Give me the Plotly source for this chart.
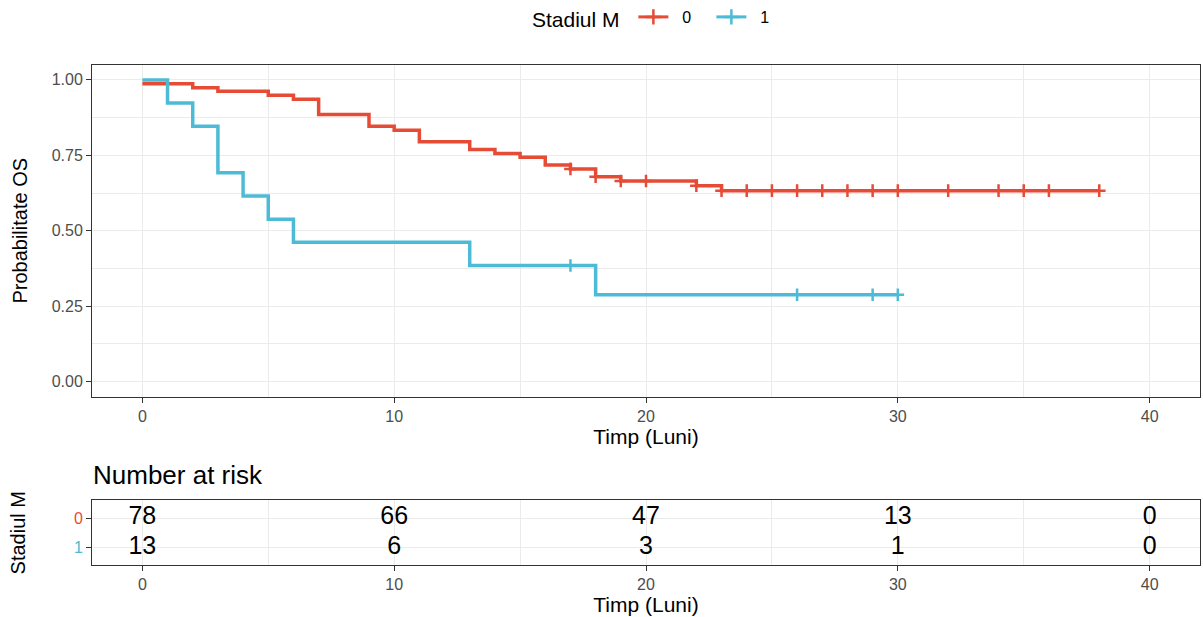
import plotly.graph_objects as go

# Kaplan-Meier step estimates per M stage (time in months, survival probability)
m0_time = [0, 2, 3, 5, 6, 7, 9, 10, 11, 13, 14, 15, 16, 17, 18, 19, 22, 23, 38]
m0_surv = [0.987, 0.974, 0.962, 0.949, 0.936, 0.885, 0.846, 0.833, 0.795, 0.769,
           0.756, 0.744, 0.718, 0.705, 0.679, 0.665, 0.649, 0.633, 0.633]
m1_time = [0, 1, 2, 3, 4, 5, 6, 13, 18, 30]
m1_surv = [1.0, 0.923, 0.846, 0.692, 0.615, 0.538, 0.462, 0.385, 0.288, 0.288]

# Censoring times
m0_censor = [17, 18, 19, 20, 22, 23, 24, 25, 26, 27, 28, 29, 30, 32, 34, 35, 36, 38]
m1_censor = [17, 26, 29, 30]

# Number at risk table
risk_times = [0, 10, 20, 30, 40]
risk_m0 = [78, 66, 47, 13, 0]
risk_m1 = [13, 6, 3, 1, 0]

groups = ["0", "1"]
colors = ["#E64B35", "#4DBBD5"]

W, H = 1203, 617
FONT = "Liberation Sans, Arial, sans-serif"


def step_value(times, surv, t):
    """Survival value of a right-continuous step curve at time t."""
    val = surv[0]
    for ti, si in zip(times, surv):
        if ti <= t:
            val = si
    return val


def px_x(p):
    return p / W


def px_y(p):
    return 1 - p / H


fig = go.Figure()

curves = [(m0_time, m0_surv, m0_censor), (m1_time, m1_surv, m1_censor)]
for (t, s, c), g, col in zip(curves, groups, colors):
    fig.add_trace(go.Scatter(
        x=t, y=s, mode="lines", line=dict(color=col, width=3.5, shape="hv"),
        showlegend=False, legendgroup=g, hoverinfo="skip"))
    fig.add_trace(go.Scatter(
        x=c, y=[step_value(t, s, ci) for ci in c], mode="markers",
        marker=dict(symbol="cross-thin", size=9, line=dict(color=col, width=2.5)),
        showlegend=False, legendgroup=g, hoverinfo="skip"))
    # legend entry: line with censor cross
    fig.add_trace(go.Scatter(
        x=[None], y=[None], mode="lines+markers", name="  " + g, legendgroup=g,
        line=dict(color=col, width=3),
        marker=dict(symbol="cross-thin", size=11, line=dict(color=col, width=2.5))))

# Number-at-risk text
for vals, yrow in [(risk_m0, 2), (risk_m1, 1)]:
    fig.add_trace(go.Scatter(
        x=risk_times, y=[yrow] * len(risk_times), text=[str(v) for v in vals],
        mode="text", textfont=dict(size=25, color="black", family=FONT),
        textposition="middle center", showlegend=False, hoverinfo="skip",
        xaxis="x2", yaxis="y2"))

x_dom = [px_x(92), px_x(1200)]
axis_common = dict(
    showline=True, mirror=True, linecolor="#333333", linewidth=1,
    ticks="outside", ticklen=5, tickcolor="#333333", tickwidth=1,
    showgrid=True, gridcolor="#EBEBEB", gridwidth=1,
    zeroline=False, automargin=False,
    tickfont=dict(size=16, color="#4D4D4D", family=FONT),
)
minor_x = dict(dtick=5, tick0=0, showgrid=True, gridcolor="#EBEBEB", gridwidth=0.8, ticks="")

fig.update_layout(
    width=W, height=H,
    margin=dict(l=0, r=0, t=0, b=0),
    paper_bgcolor="white", plot_bgcolor="white",
    font=dict(family=FONT, color="black"),
    xaxis=dict(
        **axis_common, domain=x_dom, range=[-2, 42],
        tickvals=[0, 10, 20, 30, 40], minor=minor_x,
        title=dict(text="Timp (Luni)", font=dict(size=21, color="black"), standoff=4),
        anchor="y",
    ),
    yaxis=dict(
        **axis_common, domain=[px_y(396), px_y(63)], range=[-0.05, 1.05],
        tickvals=[0, 0.25, 0.5, 0.75, 1.0],
        ticktext=["0.00", "0.25", "0.50", "0.75", "1.00"],
        minor=dict(dtick=0.125, tick0=0, showgrid=True, gridcolor="#EBEBEB", gridwidth=0.8, ticks=""),
        title=dict(text="Probabilitate OS", font=dict(size=20, color="black"), standoff=18),
        anchor="x",
    ),
    xaxis2=dict(
        **axis_common, domain=x_dom, range=[-2, 42],
        tickvals=[0, 10, 20, 30, 40], minor=minor_x,
        title=dict(text="Timp (Luni)", font=dict(size=21, color="black"), standoff=4),
        anchor="y2",
    ),
    yaxis2=dict(
        **axis_common, domain=[px_y(565), px_y(500)], range=[0.4, 2.6],
        tickvals=[1, 2],
        ticktext=[f"<span style='color:{colors[1]}'>1</span>",
                  f"<span style='color:{colors[0]}'>0</span>"],
        title=dict(text="Stadiul M", font=dict(size=20, color="black"), standoff=42),
        anchor="x2",
    ),
    legend=dict(
        orientation="h", x=px_x(660), xanchor="center", y=px_y(17), yanchor="middle",
        title=dict(text="Stadiul M ", font=dict(size=21, color="black")),
        font=dict(size=16, color="black"), itemwidth=30,
        entrywidth=33, entrywidthmode="pixels",
        bgcolor="rgba(0,0,0,0)",
    ),
    annotations=[dict(
        text="Number at risk", xref="paper", yref="paper",
        x=px_x(91), y=px_y(475), xanchor="left", yanchor="middle",
        showarrow=False, font=dict(size=26, color="black"),
    )],
)

fig.write_html("out.html")
